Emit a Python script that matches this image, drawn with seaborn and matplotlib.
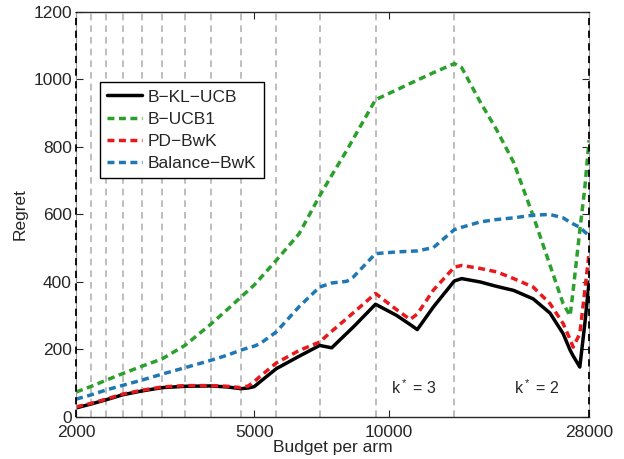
import numpy as np
import pandas as pd
import seaborn as sns
import matplotlib.pyplot as plt
from matplotlib.ticker import NullLocator

# Budget per arm (x) at the points
budget = [2000, 2154, 2333, 2545, 2800, 3111, 3500, 4000, 4350, 4667, 4850, 5000,
          5150, 5600, 6300, 7000, 7450, 8050, 8330, 9333, 10400, 11150, 11570, 12570,
          14000, 14540, 16000, 17400, 19000, 21000, 22900, 24500, 25400, 25800, 26700,
          27400, 28000]

# Regret per method
b_kl_ucb = [27, 38, 51, 66, 77, 87, 91, 92, 89, 84, 86, 90, 104, 143, 180, 212, 205,
            248, 267, 334, 301, 274, 259, 326, 403, 410, 400, 387, 375, 350, 308, 247,
            198, 181, 148, 277, 400]
b_ucb1 = [74, 90, 109, 129, 150, 172, 212, 275, 318, 355, 375, 391, 410, 464, 543, 655,
          716, 790, 825, 940, 969, 988, 998, 1020, 1047, 1035, 933, 851, 754, 596, 450,
          336, 300, 375, 553, 680, 820]
pd_bwk = [30, 40, 53, 68, 79, 89, 93, 93, 91, 87, 92, 105, 120, 160, 197, 222, 254, 292,
          309, 366, 318, 289, 305, 376, 444, 449, 440, 430, 410, 385, 336, 277, 230, 207,
          247, 375, 485]
balance_bwk = [53, 65, 80, 94, 109, 127, 146, 168, 183, 198, 205, 210, 217, 252, 327,
               385, 397, 402, 415, 484, 489, 491, 492, 502, 555, 562, 578, 585, 590, 598,
               600, 590, 577, 572, 562, 548, 538]

methods = ['B\u2212KL\u2212UCB', 'B\u2212UCB1', 'PD\u2212BwK', 'Balance\u2212BwK']
colors = ['black', '#2ca02c', '#e8191c', '#1f78b4']
xticks = [2000, 5000, 10000, 28000]
k_labels = ['k$^*$ = 3', 'k$^*$ = 2']

df = pd.DataFrame({
    'budget': budget * 4,
    'regret': b_kl_ucb + b_ucb1 + pd_bwk + balance_bwk,
    'method': np.repeat(methods, len(budget)),
})

sns.set_style('ticks')
plt.rcParams['font.family'] = ['Liberation Sans', 'DejaVu Sans']
plt.rcParams['mathtext.default'] = 'regular'

fig, ax = plt.subplots(figsize=(6.24, 4.59), dpi=100)
fig.subplots_adjust(left=0.122, right=0.944, bottom=0.0915, top=0.974)

# vertical dashed lines at 28000/k (the two edge ones are black, over the spines)
for k in range(1, 15):
    edge = k in (1, 14)
    ax.axvline(28000 / k, color='black' if edge else '#b3b3b3',
               ls=(0, (4, 3)), lw=1.3 if edge else 1.2,
               zorder=3 if edge else 0.5, clip_on=False)

dash = (2, 1.3)
sns.lineplot(data=df, x='budget', y='regret', hue='method', style='method',
             hue_order=methods, style_order=methods,
             palette=dict(zip(methods, colors)),
             dashes=dict(zip(methods, ['', dash, dash, dash])),
             linewidth=2.5, sort=False, ax=ax)

ax.set_xscale('log')
ax.set_xlim(2000, 28000)
ax.set_ylim(0, 1200)
ax.set_xticks(xticks)
ax.set_xticklabels([str(t) for t in xticks])
ax.xaxis.set_minor_locator(NullLocator())
ax.set_yticks(range(0, 1201, 200))
ax.tick_params(direction='in', top=True, right=True, length=5, width=0.8,
               labelsize=12.5)
ax.tick_params(axis='x', pad=6)
ax.tick_params(axis='y', pad=3)

for s in ['left', 'right']:
    ax.spines[s].set_color('#999999')
for s in ['top', 'bottom']:
    ax.spines[s].set_linewidth(1.0)

ax.set_xlabel('Budget per arm', fontsize=12.5, labelpad=0)
ax.set_ylabel('Regret', fontsize=12.5, labelpad=4)

ax.text(11380, 88, k_labels[0], ha='center', va='center', fontsize=11.5)
ax.text(21430, 88, k_labels[1], ha='center', va='center', fontsize=11.5)

leg = ax.legend(loc='upper left', bbox_to_anchor=(0.047, 0.826), borderaxespad=0,
                fancybox=False, edgecolor='black', framealpha=1, fontsize=12.5,
                handlelength=2.0, labelspacing=0.4, borderpad=0.4, handletextpad=0.35)
leg.get_frame().set_linewidth(1.0)

fig.savefig('out.png', dpi=100)
